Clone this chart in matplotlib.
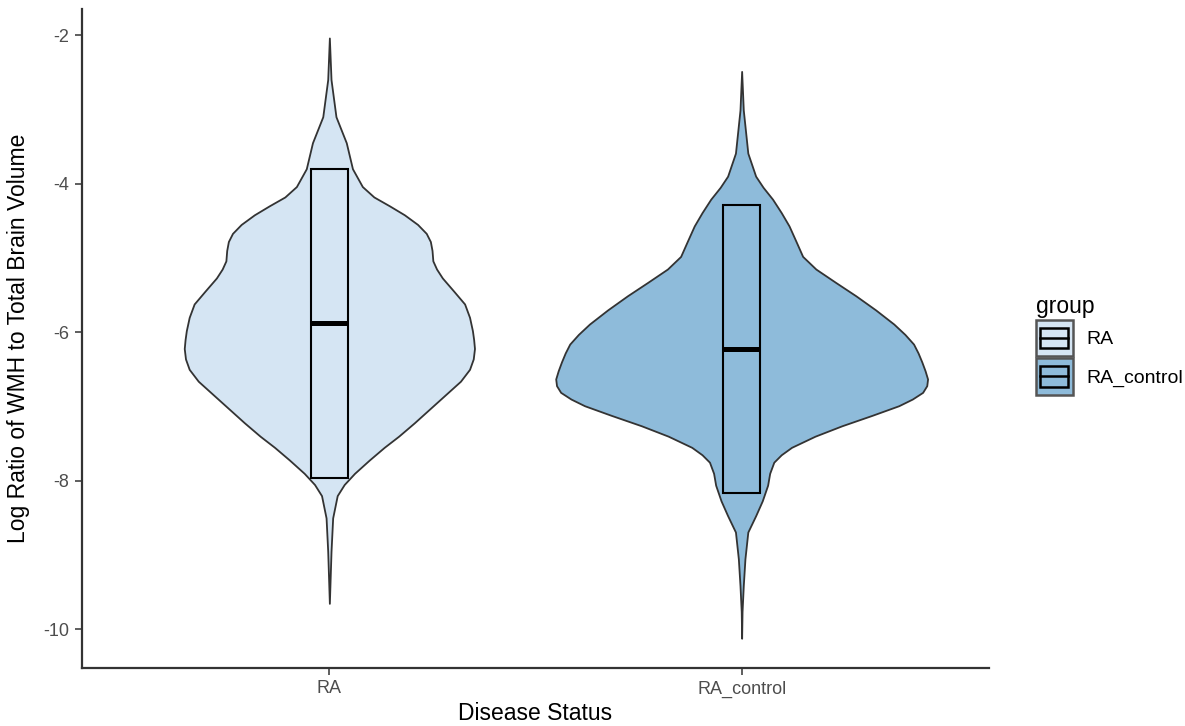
import matplotlib.pyplot as plt
import numpy as np
from matplotlib.legend_handler import HandlerBase
from matplotlib.patches import Rectangle, Patch
from matplotlib.lines import Line2D

plt.rcParams['font.family'] = ['Liberation Sans', 'DejaVu Sans']

groups = ['RA', 'RA_control']
fills = ['#D5E5F3', '#8EBBDA']

# violin outlines: y value and half width (x units)
ra_y = [-2.04, -2.60, -3.10, -3.45, -3.80, -4.04, -4.18, -4.30, -4.42, -4.55, -4.67,
        -4.78, -4.90, -5.04, -5.15, -5.27, -5.45, -5.62, -5.80, -5.98, -6.10, -6.22,
        -6.36, -6.50, -6.66, -6.82, -7.02, -7.22, -7.40, -7.55, -7.72, -7.90, -8.05,
        -8.20, -8.50, -8.95, -9.65]
ra_hw = [0, 0.004, 0.016, 0.041, 0.056, 0.080, 0.108, 0.146, 0.182, 0.214, 0.235,
         0.245, 0.249, 0.251, 0.260, 0.274, 0.302, 0.328, 0.340, 0.347, 0.350, 0.352,
         0.349, 0.340, 0.318, 0.286, 0.246, 0.206, 0.168, 0.133, 0.097, 0.061, 0.036,
         0.019, 0.008, 0.004, 0]

ctl_y = [-2.49, -3.01, -3.59, -3.90, -4.05, -4.21, -4.39, -4.57, -4.78, -4.98, -5.15,
         -5.33, -5.51, -5.70, -5.89, -6.03, -6.16, -6.28, -6.40, -6.52, -6.63, -6.72,
         -6.81, -6.90, -6.99, -7.12, -7.26, -7.40, -7.55, -7.65, -7.75, -7.90, -8.06,
         -8.27, -8.47, -8.69, -9.05, -9.41, -9.76, -10.12]
ctl_hw = [0, 0.004, 0.015, 0.034, 0.052, 0.075, 0.096, 0.115, 0.132, 0.148, 0.180,
          0.228, 0.277, 0.325, 0.369, 0.396, 0.417, 0.428, 0.437, 0.445, 0.451, 0.449,
          0.439, 0.414, 0.381, 0.316, 0.243, 0.178, 0.121, 0.096, 0.078, 0.068, 0.063,
          0.050, 0.034, 0.015, 0.008, 0.004, 0.001, 0]

# box: lower hinge, median, upper hinge
q1 = [-7.96, -8.17]
med = [-5.88, -6.23]
q3 = [-3.81, -4.29]

violins = [(ra_y, ra_hw), (ctl_y, ctl_hw)]
box_w = 0.09

fig = plt.figure(figsize=(11.85, 7.26), dpi=100)
ax = fig.add_axes([0.0692, 0.0799, 0.7654, 0.9077])

for i, (vy, vw) in enumerate(violins):
    pos = i + 1
    vy = np.array(vy)
    vw = np.array(vw)
    ax.fill_betweenx(vy, pos - vw, pos + vw, facecolor=fills[i], edgecolor='#333333', lw=1.3, zorder=2)
    ax.bar(pos, q3[i] - q1[i], bottom=q1[i], width=box_w, color=fills[i], edgecolor='black', lw=1.5, zorder=3)
    ax.hlines(med[i], pos - box_w / 2, pos + box_w / 2, color='black', lw=3.6, zorder=4)

ax.set_xlim(0.4, 2.6)
ax.set_ylim(-10.52, -1.65)
ax.set_xticks([1, 2])
ax.set_xticklabels(groups)
ax.set_yticks([-2, -4, -6, -8, -10])
ax.set_yticklabels(['-2', '-4', '-6', '-8', '-10'])
ax.tick_params(colors='#333333', labelcolor='#4D4D4D', labelsize=13, length=5, width=1.1, pad=4)
for s in ['top', 'right']:
    ax.spines[s].set_visible(False)
for s in ['left', 'bottom']:
    ax.spines[s].set_color('#333333')
    ax.spines[s].set_linewidth(1.6)

ax.set_xlabel('Disease Status', fontsize=16.5, labelpad=3)
ax.set_ylabel('Log Ratio of WMH to Total Brain Volume', fontsize=16.5, labelpad=10)


class BoxKey(HandlerBase):
    def create_artists(self, legend, orig_handle, xdescent, ydescent, width, height, fontsize, trans):
        fc = orig_handle.get_facecolor()
        x0, y0 = -xdescent, -ydescent
        outer = Rectangle((x0, y0), width, height, facecolor=fc, edgecolor='#555555', lw=1.8, transform=trans)
        inner = Rectangle((x0 + width * 0.12, y0 + height * 0.22), width * 0.76, height * 0.56,
                          facecolor=fc, edgecolor='black', lw=1.8, transform=trans)
        mid = Line2D([x0 + width * 0.12, x0 + width * 0.88], [y0 + height * 0.5] * 2,
                     color='black', lw=1.8, transform=trans)
        return [outer, inner, mid]


handles = [Patch(facecolor=c) for c in fills]
leg = fig.legend(handles, groups, handler_map={Patch: BoxKey()}, title='group',
                 loc='center left', bbox_to_anchor=(0.866, 0.525), frameon=False,
                 fontsize=14, title_fontsize=16.5, handlelength=1.9, handleheight=2.5,
                 labelspacing=0.1, handletextpad=0.7, borderpad=0, alignment='left')

fig.savefig('out.png', dpi=100)
